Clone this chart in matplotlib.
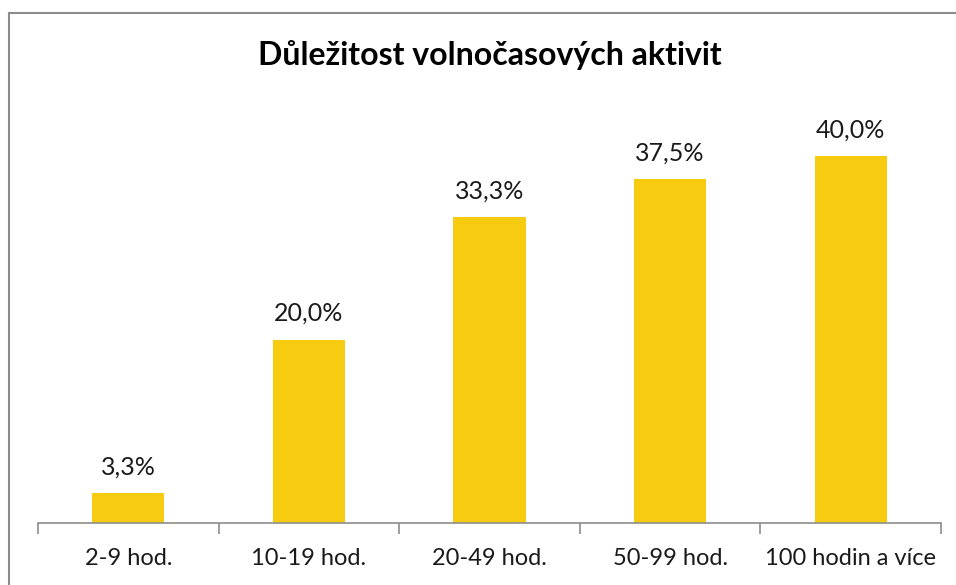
import numpy as np
import matplotlib.pyplot as plt
from matplotlib.patches import Rectangle

plt.rcParams['font.family'] = ['Lato', 'DejaVu Sans']

categories = ['2-9 hod.', '10-19 hod.', '20-49 hod.', '50-99 hod.', '100 hodin a více']
values = [3.3, 20.0, 33.3, 37.5, 40.0]
title = 'Důležitost volnočasových aktivit'

W, H = 956, 585
fig = plt.figure(figsize=(W / 100, H / 100), dpi=100)

# outer chart border (cut off at right/bottom like the screenshot)
fig.patches.append(Rectangle((9 / W, -0.1), 2.0, (H - 13) / H + 0.1,
                             transform=fig.transFigure, fill=False,
                             edgecolor='#8c8c8c', linewidth=1.5))

ax_left, ax_right, ax_bottom = 38, 941, 523
ymax = 45.0
px_per_unit = (523 - 156) / 40.0
ax_top = ax_bottom - ymax * px_per_unit
ax = fig.add_axes([ax_left / W, 1 - ax_bottom / H,
                   (ax_right - ax_left) / W, (ax_bottom - ax_top) / H])

x = np.arange(len(categories))
bars = ax.bar(x, values, width=0.4, color='#F7CB10')
ax.set_xlim(-0.5, len(categories) - 0.5)
ax.set_ylim(0, ymax)

for b, v in zip(bars, values):
    ax.annotate(f'{v:.1f}%'.replace('.', ','),
                (b.get_x() + b.get_width() / 2, v),
                xytext=(0, 10.5), textcoords='offset points',
                ha='center', va='bottom', fontsize=18, color='#1a1a1a')

for s in ['top', 'right', 'left']:
    ax.spines[s].set_visible(False)
ax.spines['bottom'].set_color('#8c8c8c')
ax.spines['bottom'].set_linewidth(1.2)
ax.set_yticks([])

ax.set_xticks(np.arange(-0.5, len(categories)), minor=False)
ax.set_xticklabels([])
ax.tick_params(axis='x', length=8, color='#8c8c8c', width=1.2)
ax.set_xticks(x, minor=True)
ax.set_xticklabels(categories, minor=True, fontsize=17, color='#1a1a1a')
ax.tick_params(axis='x', which='minor', length=0, pad=18)

fig.text(490 / W, 1 - 55 / H, title, ha='center', va='center',
         fontsize=23, fontweight='bold', color='black')

fig.savefig('out.png', dpi=100)
